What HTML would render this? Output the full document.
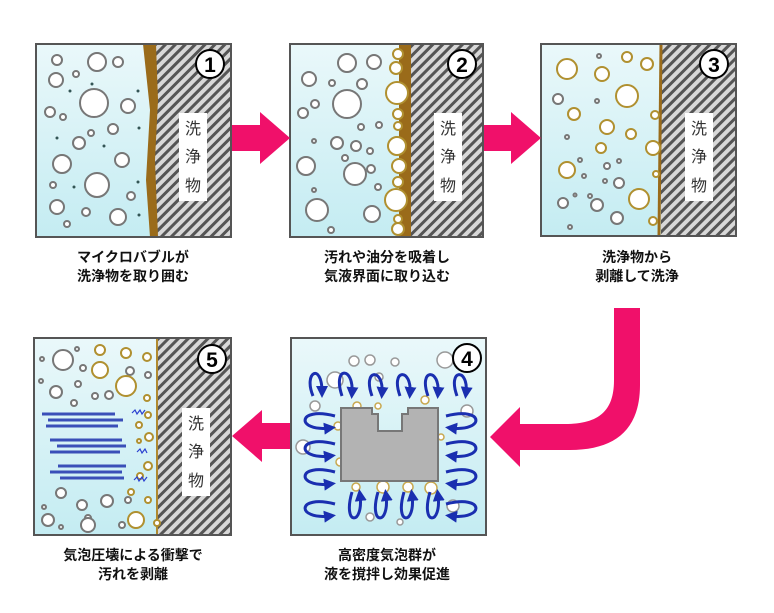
<!DOCTYPE html>
<html><head><meta charset="utf-8"><style>
html,body{margin:0;padding:0;background:#fff;width:774px;height:613px;overflow:hidden}
svg{display:block}
.cap{font-family:"Liberation Sans","Noto Sans CJK JP",sans-serif;font-size:14px;font-weight:bold;fill:#111;text-anchor:middle}
.lab{font-family:"Liberation Sans","Noto Sans CJK JP",sans-serif;font-size:16px;fill:#333;text-anchor:middle}
.num{font-family:"Liberation Sans",sans-serif;font-size:21px;font-weight:bold;fill:#000;text-anchor:middle}
</style></head><body>
<svg width="774" height="613" viewBox="0 0 774 613" xmlns="http://www.w3.org/2000/svg">
<defs>
<pattern id="h" width="7" height="7" patternUnits="userSpaceOnUse" patternTransform="rotate(45)">
<rect width="7" height="7" fill="#d8d8d8"/><rect width="3" height="7" fill="#555"/></pattern>
<linearGradient id="w" x1="0" y1="0" x2="0" y2="1"><stop offset="0" stop-color="#eaf8fa"/><stop offset="1" stop-color="#c4ecf2"/></linearGradient>
<marker id="ar" viewBox="0 0 10 10" refX="5" refY="5" markerWidth="4" markerHeight="4" orient="auto"><path d="M0,0L10,5L0,10z" fill="#1a2fb0"/></marker>
</defs>
<g stroke="#777" stroke-width="2" fill="#fff">
<!-- Panel 1 -->
<rect x="36" y="44" width="195" height="193" fill="url(#w)" stroke="none"/>
<rect x="152" y="44" width="79" height="193" fill="url(#h)" stroke="none"/>
<path d="M143,44 L156,44 L158,100 L155,160 L158,237 L150,237 L146,180 L150,110 Z" fill="#9a6b1a" stroke="none"/>
<circle cx="57" cy="60" r="5"/><circle cx="97" cy="62" r="9"/><circle cx="118" cy="62" r="5"/><circle cx="56" cy="80" r="7"/><circle cx="76" cy="74" r="3"/>
<circle cx="94" cy="103" r="14"/><circle cx="128" cy="106" r="7"/><circle cx="50" cy="112" r="5"/><circle cx="63" cy="117" r="3"/>
<circle cx="113" cy="129" r="5"/><circle cx="91" cy="133" r="3"/><circle cx="79" cy="143" r="6"/><circle cx="122" cy="160" r="7"/>
<circle cx="62" cy="164" r="9"/><circle cx="97" cy="185" r="12"/><circle cx="53" cy="185" r="3"/><circle cx="131" cy="196" r="4"/>
<circle cx="57" cy="207" r="7"/><circle cx="86" cy="212" r="4"/><circle cx="118" cy="217" r="8"/><circle cx="67" cy="224" r="3"/>
<g fill="#355" stroke="none"><circle cx="92" cy="84" r="1.5"/><circle cx="70" cy="91" r="1.5"/><circle cx="138" cy="91" r="1.5"/><circle cx="57" cy="138" r="1.5"/><circle cx="104" cy="146" r="1.5"/><circle cx="139" cy="128" r="1.5"/><circle cx="74" cy="187" r="1.5"/><circle cx="138" cy="182" r="1.5"/><circle cx="139" cy="215" r="1.5"/></g>
<rect x="36" y="44" width="195" height="193" fill="none" stroke="#555"/>
<!-- Panel 2 -->
<rect x="290" y="44" width="193" height="193" fill="url(#w)" stroke="none"/>
<rect x="410" y="44" width="73" height="193" fill="url(#h)" stroke="none"/>
<rect x="399" y="44" width="12" height="193" fill="#9a6b1a" stroke="none"/>
<circle cx="347" cy="63" r="9"/><circle cx="374" cy="62" r="7"/><circle cx="309" cy="79" r="7"/><circle cx="332" cy="83" r="3"/><circle cx="362" cy="84" r="5"/>
<circle cx="347" cy="104" r="14"/><circle cx="315" cy="104" r="4"/><circle cx="303" cy="113" r="5"/><circle cx="361" cy="127" r="3"/><circle cx="379" cy="125" r="3"/>
<circle cx="314" cy="141" r="2"/><circle cx="337" cy="143" r="6"/><circle cx="356" cy="146" r="5"/><circle cx="370" cy="151" r="3"/><circle cx="345" cy="158" r="3"/>
<circle cx="306" cy="166" r="9"/><circle cx="355" cy="174" r="11"/><circle cx="371" cy="169" r="4"/><circle cx="378" cy="187" r="3"/><circle cx="314" cy="190" r="2"/>
<circle cx="317" cy="210" r="11"/><circle cx="372" cy="214" r="8"/><circle cx="331" cy="230" r="3"/>
<g stroke="#b09030"><circle cx="398" cy="54" r="5"/><circle cx="396" cy="68" r="6"/><circle cx="397" cy="93" r="11"/><circle cx="398" cy="114" r="5"/><circle cx="398" cy="126" r="4"/><circle cx="397" cy="146" r="9"/><circle cx="399" cy="166" r="7"/><circle cx="398" cy="182" r="5"/><circle cx="396" cy="200" r="11"/><circle cx="398" cy="219" r="4"/><circle cx="398" cy="229" r="6"/></g>
<rect x="290" y="44" width="193" height="193" fill="none" stroke="#555"/>
<!-- Panel 3 -->
<rect x="541" y="44" width="195" height="192" fill="url(#w)" stroke="none"/>
<rect x="661" y="44" width="75" height="192" fill="url(#h)" stroke="none"/>
<line x1="661" y1="44" x2="659" y2="236" stroke="#9a6b1a" stroke-width="3"/>
<g stroke="#b09030"><circle cx="567" cy="69" r="10"/><circle cx="602" cy="74" r="7"/><circle cx="627" cy="57" r="5"/><circle cx="647" cy="64" r="6"/><circle cx="627" cy="96" r="11"/><circle cx="655" cy="115" r="4"/><circle cx="574" cy="114" r="6"/><circle cx="607" cy="127" r="7"/><circle cx="631" cy="134" r="5"/><circle cx="601" cy="148" r="5"/><circle cx="653" cy="148" r="7"/><circle cx="567" cy="170" r="8"/><circle cx="639" cy="199" r="10"/><circle cx="653" cy="221" r="4"/><circle cx="656" cy="174" r="3"/></g>
<circle cx="558" cy="99" r="5"/><circle cx="599" cy="56" r="2"/><circle cx="597" cy="101" r="2"/><circle cx="567" cy="137" r="2"/><circle cx="580" cy="160" r="2"/><circle cx="607" cy="166" r="3"/><circle cx="619" cy="161" r="2"/><circle cx="619" cy="183" r="5"/><circle cx="584" cy="176" r="2"/><circle cx="605" cy="181" r="2"/><circle cx="590" cy="196" r="2"/><circle cx="563" cy="203" r="5"/><circle cx="597" cy="205" r="6"/><circle cx="617" cy="218" r="6"/><circle cx="570" cy="227" r="2"/><circle cx="575" cy="195" r="1.5"/>
<rect x="541" y="44" width="195" height="192" fill="none" stroke="#555"/>
<!-- Panel 5 -->
<rect x="34" y="338" width="197" height="197" fill="url(#w)" stroke="none"/>
<rect x="157" y="338" width="74" height="197" fill="url(#h)" stroke="none"/>
<line x1="157" y1="338" x2="157" y2="535" stroke="#b08a30" stroke-width="2"/>
<circle cx="63" cy="360" r="10"/><circle cx="42" cy="359" r="2"/><circle cx="77" cy="349" r="2"/><circle cx="83" cy="368" r="3"/><circle cx="56" cy="392" r="6"/><circle cx="78" cy="384" r="3"/><circle cx="95" cy="396" r="3"/><circle cx="74" cy="403" r="3"/><circle cx="109" cy="395" r="4"/><circle cx="41" cy="381" r="2"/><circle cx="130" cy="371" r="4"/><circle cx="148" cy="375" r="3"/>
<circle cx="61" cy="493" r="5"/><circle cx="48" cy="520" r="6"/><circle cx="82" cy="505" r="5"/><circle cx="88" cy="518" r="3"/><circle cx="107" cy="501" r="6"/><circle cx="88" cy="525" r="7"/><circle cx="122" cy="525" r="3"/><circle cx="44" cy="507" r="2"/><circle cx="61" cy="527" r="2"/><circle cx="128" cy="500" r="3"/>
<g stroke="#b09030"><circle cx="100" cy="350" r="5"/><circle cx="126" cy="353" r="5"/><circle cx="100" cy="370" r="8"/><circle cx="126" cy="386" r="10"/><circle cx="147" cy="357" r="4"/><circle cx="147" cy="398" r="3"/><circle cx="148" cy="415" r="3"/><circle cx="139" cy="425" r="3"/><circle cx="149" cy="437" r="4"/><circle cx="139" cy="441" r="2"/><circle cx="148" cy="466" r="4"/><circle cx="140" cy="476" r="3"/><circle cx="131" cy="492" r="3"/><circle cx="148" cy="500" r="3"/><circle cx="136" cy="520" r="8"/><circle cx="157" cy="523" r="3"/></g>
<rect x="34" y="338" width="197" height="197" fill="none" stroke="#555"/>
<!-- Panel 4 -->
<rect x="291" y="338" width="195" height="197" fill="url(#w)" stroke="none"/>
<g stroke="#999" stroke-width="1.5"><circle cx="354" cy="361" r="5"/><circle cx="370" cy="360" r="5"/><circle cx="395" cy="362" r="4"/><circle cx="445" cy="360" r="8"/><circle cx="335" cy="380" r="8"/><circle cx="379" cy="377" r="4"/><circle cx="315" cy="406" r="5"/><circle cx="467" cy="411" r="6"/><circle cx="303" cy="447" r="7"/><circle cx="453" cy="506" r="6"/><circle cx="370" cy="517" r="4"/><circle cx="400" cy="522" r="3"/></g>
<g stroke="#c8a850" stroke-width="1.5"><circle cx="357" cy="406" r="4"/><circle cx="378" cy="406" r="3"/><circle cx="425" cy="400" r="4"/><circle cx="383" cy="487" r="6"/><circle cx="431" cy="488" r="6"/><circle cx="356" cy="487" r="4"/><circle cx="408" cy="487" r="5"/><circle cx="338" cy="426" r="4"/><circle cx="340" cy="462" r="4"/><circle cx="441" cy="437" r="3"/></g>
<path d="M341,408 H372 V414 H378 V431 H402 V414 H408 V408 H438 V481 H341 Z" fill="#b3b3b3" stroke="#777"/>
<g fill="none" stroke="#1a2fb0" stroke-width="3" marker-end="url(#ar)">
<path d="M313,396 C303,372 322,362 322,392"/><path d="M342,396 C332,366 354,366 352,393"/><path d="M372,396 C362,368 384,368 382,393"/><path d="M400,396 C390,368 412,368 410,393"/><path d="M428,396 C418,368 440,368 438,393"/><path d="M457,396 C447,368 469,368 466,393"/>
<path d="M335,416 C296,406 296,432 330,428"/><path d="M335,444 C296,434 296,460 330,456"/><path d="M335,472 C296,462 296,488 330,484"/><path d="M335,504 C296,494 296,520 330,516"/>
<path d="M446,416 C485,406 485,432 451,428"/><path d="M446,444 C485,434 485,460 451,456"/><path d="M446,472 C485,462 485,488 451,484"/><path d="M446,504 C485,494 485,520 451,516"/>
<path d="M352,492 C342,526 364,526 360,495"/><path d="M378,492 C368,526 390,526 386,495"/><path d="M404,492 C394,526 416,526 412,495"/><path d="M430,492 C420,526 442,526 438,495"/>
</g>
<rect x="291" y="338" width="195" height="197" fill="none" stroke="#555"/>
</g>
<!-- shock waves -->
<g stroke="#3a4fb8" stroke-width="3">
<line x1="42" y1="414" x2="115" y2="414"/><line x1="48" y1="420" x2="123" y2="420"/><line x1="46" y1="426" x2="118" y2="426"/>
<line x1="50" y1="440" x2="122" y2="440"/><line x1="57" y1="446" x2="126" y2="446"/><line x1="50" y1="452" x2="120" y2="452"/>
<line x1="58" y1="466" x2="126" y2="466"/><line x1="50" y1="472" x2="122" y2="472"/><line x1="60" y1="478" x2="124" y2="478"/>
</g>
<g fill="none" stroke="#2a40d0" stroke-width="1.2"><path d="M132,413 l3,-3 l2,4 l3,-4 l2,4 l3,-4"/><path d="M137,452 l3,-3 l2,4 l3,-4 l2,4"/><path d="M134,480 l3,-3 l2,4 l3,-4 l2,4 l3,-4"/></g>
<!-- labels -->
<g fill="#fff"><rect x="179" y="113" width="28" height="88"/><rect x="434" y="113" width="28" height="88"/><rect x="685" y="113" width="28" height="88"/><rect x="182" y="408" width="28" height="88"/></g>
<g class="lab"><text x="193" y="134">洗</text><text x="193" y="162">浄</text><text x="193" y="191">物</text>
<text x="448" y="134">洗</text><text x="448" y="162">浄</text><text x="448" y="191">物</text>
<text x="699" y="134">洗</text><text x="699" y="162">浄</text><text x="699" y="191">物</text>
<text x="196" y="429">洗</text><text x="196" y="457">浄</text><text x="196" y="486">物</text></g>
<g fill="#fff" stroke="#000" stroke-width="2"><circle cx="210" cy="64" r="14"/><circle cx="462" cy="64" r="14"/><circle cx="714" cy="64" r="14"/><circle cx="212" cy="359" r="14"/><circle cx="467" cy="358" r="14"/></g>
<g class="num"><text x="210" y="72">1</text><text x="462" y="72">2</text><text x="714" y="72">3</text><text x="212" y="367">5</text><text x="467" y="366">4</text></g>
<!-- arrows -->
<g fill="#f0106a">
<path d="M232,125 H260 V112 L290,138 L260,164 V151 H232 Z"/>
<path d="M484,125 H511 V112 L541,138 L511,164 V151 H484 Z"/>
<path d="M290,423 H262 V410 L232,436 L262,462 V449 H290 Z"/>
<path d="M614,308 H640 V385 C640,430 615,450 570,450 H520 V467 L490,437 L520,407 V424 H565 C600,424 614,410 614,380 Z"/>
</g>
<!-- captions -->
<g class="cap"><text x="133" y="262">マイクロバブルが</text><text x="133" y="281">洗浄物を取り囲む</text>
<text x="387" y="262">汚れや油分を吸着し</text><text x="387" y="281">気液界面に取り込む</text>
<text x="637" y="262">洗浄物から</text><text x="637" y="281">剥離して洗浄</text>
<text x="133" y="560">気泡圧壊による衝撃で</text><text x="133" y="579">汚れを剥離</text>
<text x="387" y="560">高密度気泡群が</text><text x="387" y="579">液を撹拌し効果促進</text></g>
</svg>
</body></html>
